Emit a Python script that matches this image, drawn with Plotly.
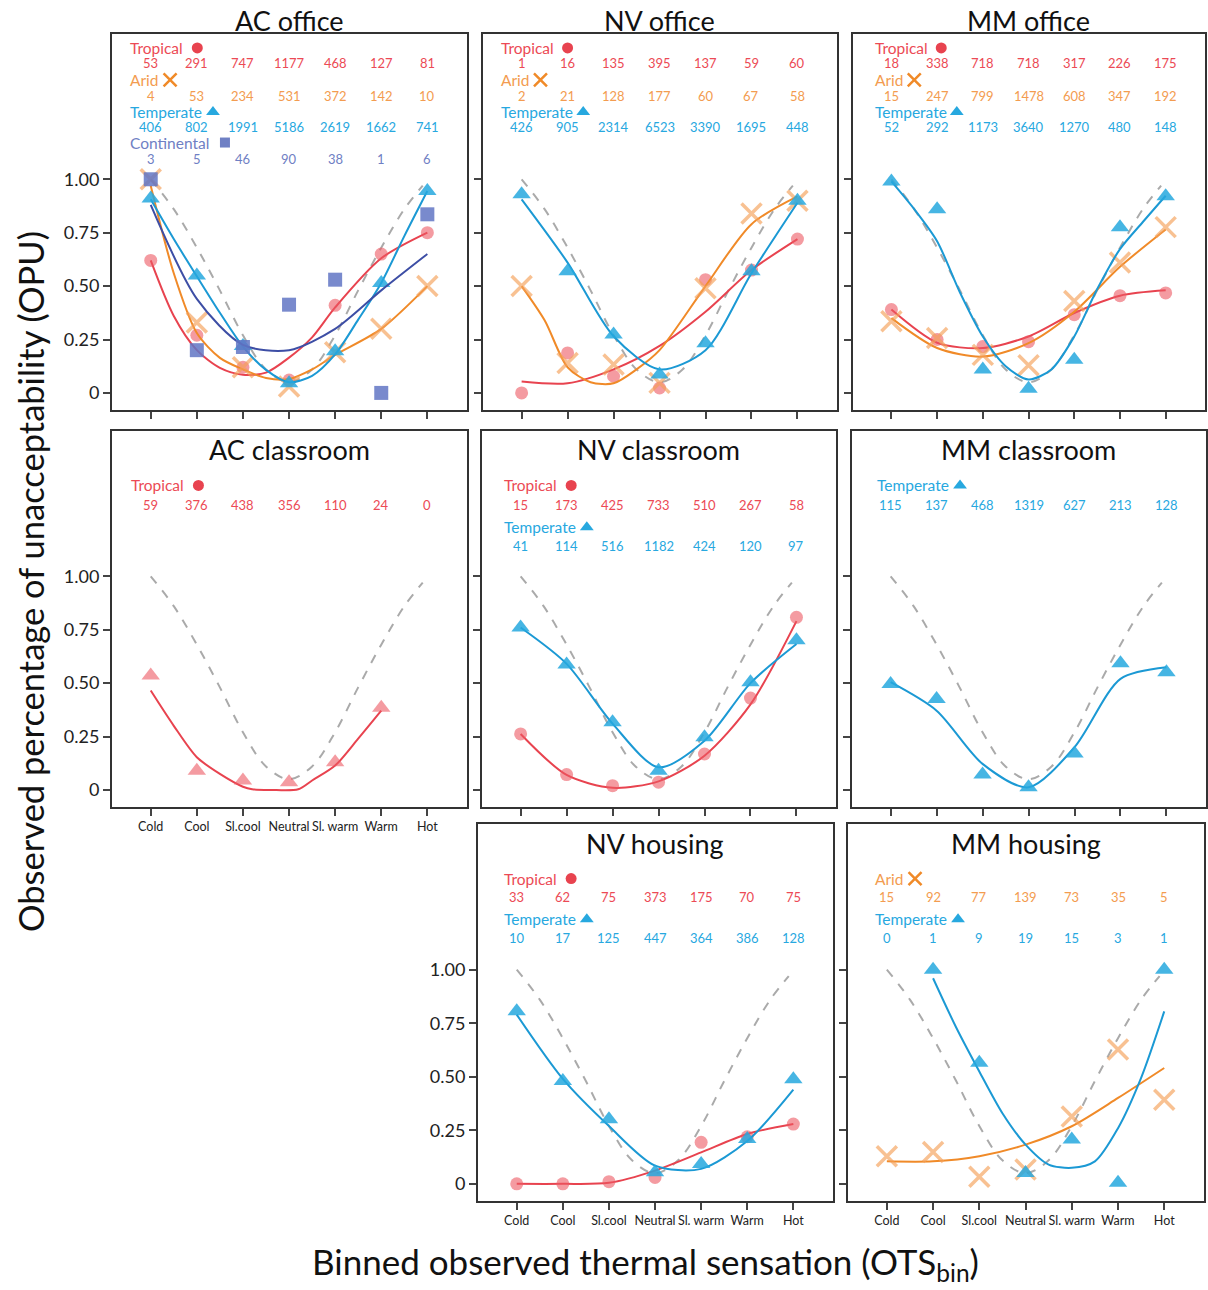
import plotly.graph_objects as go

W, H = 1208, 1290
FONT = "Lato"

categories = ["Cold", "Cool", "Sl.cool", "Neutral", "Sl. warm", "Warm", "Hot"]
levels = [1, 2, 3, 4, 5, 6, 7]
half = [1, 1.5, 2, 2.5, 3, 3.5, 4, 4.5, 5, 5.5, 6, 6.5, 7]

# grey dashed reference curve
ref_x = [1, 1.5, 2, 2.5, 3, 3.5, 4, 4.5, 5, 5.5, 6, 6.5, 6.9]
ref_y = [1.0, 0.86, 0.68, 0.48, 0.27, 0.11, 0.05, 0.11, 0.27, 0.48, 0.68, 0.86, 0.97]

# ---- AC office
ac_off_trop_n = [53, 291, 747, 1177, 468, 127, 81]
ac_off_trop_obs = [0.62, 0.27, 0.12, 0.06, 0.41, 0.65, 0.75]
ac_off_trop_fx = [1, 1.5, 2, 2.5, 3, 3.5, 4, 4.5, 5, 6, 7]
ac_off_trop_fit = [0.62, 0.36, 0.20, 0.117, 0.085, 0.095, 0.165, 0.26, 0.40, 0.63, 0.75]
ac_off_arid_n = [4, 53, 234, 531, 372, 142, 10]
ac_off_arid_obs = [1.0, 0.33, 0.12, 0.03, 0.19, 0.30, 0.50]
ac_off_arid_fx = [1, 1.5, 2, 2.5, 3, 3.5, 4, 4.5, 5, 6, 7]
ac_off_arid_fit = [0.97, 0.56, 0.28, 0.164, 0.11, 0.07, 0.065, 0.11, 0.178, 0.30, 0.50]
ac_off_temp_n = [406, 802, 1991, 5186, 2619, 1662, 741]
ac_off_temp_obs = [0.91, 0.55, 0.22, 0.045, 0.195, 0.515, 0.945]
ac_off_temp_fit = [0.906, 0.72, 0.546, 0.375, 0.217, 0.108, 0.05, 0.08, 0.18, 0.343, 0.515, 0.734, 0.945]
ac_off_cont_n = [3, 5, 46, 90, 38, 1, 6]
ac_off_cont_obs = [1.0, 0.20, 0.215, 0.413, 0.53, 0.0, 0.836]
ac_off_cont_fit = [0.88, 0.44, 0.225, 0.20, 0.30, 0.48, 0.65]

# ---- NV office
nv_off_trop_n = [1, 16, 135, 395, 137, 59, 60]
nv_off_trop_obs = [0.0, 0.187, 0.078, 0.023, 0.53, 0.575, 0.72]
nv_off_trop_fit = [0.053, 0.045, 0.11, 0.22, 0.38, 0.575, 0.72]
nv_off_arid_n = [2, 21, 128, 177, 60, 67, 58]
nv_off_arid_obs = [0.50, 0.14, 0.133, 0.047, 0.49, 0.84, 0.90]
nv_off_arid_fx = [1, 1.5, 2, 2.5, 3, 3.5, 4, 5, 6, 7]
nv_off_arid_fit = [0.50, 0.34, 0.12, 0.05, 0.045, 0.11, 0.20, 0.50, 0.79, 0.92]
nv_off_temp_n = [426, 905, 2314, 6523, 3390, 1695, 448]
nv_off_temp_obs = [0.93, 0.57, 0.273, 0.086, 0.233, 0.57, 0.90]
nv_off_temp_fit = [0.906, 0.61, 0.265, 0.11, 0.20, 0.56, 0.89]

# ---- MM office
mm_off_trop_n = [18, 338, 718, 718, 317, 226, 175]
mm_off_trop_obs = [0.39, 0.25, 0.217, 0.24, 0.366, 0.455, 0.468]
mm_off_trop_fit = [0.39, 0.235, 0.21, 0.264, 0.374, 0.455, 0.48]
mm_off_arid_n = [15, 247, 799, 1478, 608, 347, 192]
mm_off_arid_obs = [0.335, 0.257, 0.178, 0.13, 0.43, 0.61, 0.776]
mm_off_arid_fit = [0.35, 0.21, 0.17, 0.233, 0.38, 0.59, 0.765]
mm_off_temp_n = [52, 292, 1173, 3640, 1270, 480, 148]
mm_off_temp_obs = [0.99, 0.86, 0.11, 0.02, 0.155, 0.776, 0.92]
mm_off_temp_fit = [0.99, 0.86, 0.71, 0.47, 0.264, 0.125, 0.063, 0.11, 0.264, 0.485, 0.673, 0.80, 0.923]

# ---- AC classroom
ac_cls_trop_n = [59, 376, 438, 356, 110, 24, 0]
ac_cls_trop_obs = [0.535, 0.09, 0.044, 0.036, 0.13, 0.384, None]
ac_cls_trop_fx = [1, 1.5, 2, 2.5, 3, 3.2, 3.6, 4.2, 4.5, 5, 5.5, 6]
ac_cls_trop_fit = [0.465, 0.30, 0.153, 0.075, 0.015, 0.003, 0.0, 0.003, 0.044, 0.114, 0.24, 0.371]

# ---- NV classroom
nv_cls_trop_n = [15, 173, 425, 733, 510, 267, 58]
nv_cls_trop_obs = [0.262, 0.072, 0.02, 0.036, 0.168, 0.43, 0.808]
nv_cls_trop_fit = [0.262, 0.07, 0.01, 0.04, 0.16, 0.40, 0.79]
nv_cls_temp_n = [41, 114, 516, 1182, 424, 120, 97]
nv_cls_temp_obs = [0.76, 0.587, 0.317, 0.09, 0.246, 0.504, 0.70]
nv_cls_temp_fit = [0.76, 0.59, 0.31, 0.106, 0.23, 0.50, 0.683]

# ---- MM classroom
mm_cls_temp_n = [115, 137, 468, 1319, 627, 213, 128]
mm_cls_temp_obs = [0.496, 0.426, 0.072, 0.012, 0.171, 0.593, 0.551]
mm_cls_temp_fit = [0.504, 0.371, 0.122, 0.012, 0.20, 0.52, 0.574]

# ---- NV housing
nv_hou_trop_n = [33, 62, 75, 373, 175, 70, 75]
nv_hou_trop_obs = [0.0, 0.0, 0.01, 0.03, 0.194, 0.22, 0.279]
nv_hou_trop_fit = [0.0, 0.0, 0.005, 0.062, 0.147, 0.233, 0.279]
nv_hou_temp_n = [10, 17, 125, 447, 364, 386, 128]
nv_hou_temp_obs = [0.806, 0.48, 0.302, 0.054, 0.093, 0.209, 0.488]
nv_hou_temp_fit = [0.79, 0.49, 0.27, 0.085, 0.07, 0.20, 0.44]

# ---- MM housing
mm_hou_arid_n = [15, 92, 77, 139, 73, 35, 5]
mm_hou_arid_obs = [0.129, 0.149, 0.033, 0.067, 0.315, 0.627, 0.393]
mm_hou_arid_fit = [0.105, 0.105, 0.129, 0.183, 0.269, 0.401, 0.541]
mm_hou_temp_n = [0, 1, 9, 19, 15, 3, 1]
mm_hou_temp_obs = [None, 1.0, 0.565, 0.051, 0.207, 0.005, 1.0]
mm_hou_temp_fx = [2, 2.5, 3, 3.5, 4, 4.5, 5, 5.5, 6, 6.5, 7]
mm_hou_temp_fit = [0.96, 0.73, 0.525, 0.33, 0.183, 0.09, 0.075, 0.105, 0.26, 0.495, 0.805]

TEXT = {"Tropical": "#ec4a55", "Arid": "#f39c50", "Temperate": "#27a8df", "Continental": "#6f80c4"}
LINE = {"Tropical": "#e8434f", "Arid": "#f08a28", "Temperate": "#1b99d4", "Continental": "#3d4ea5"}
MARK = {"Tropical": "rgba(236,88,98,0.6)", "Arid": "rgba(245,160,88,0.65)",
        "Temperate": "rgba(38,168,222,0.85)", "Continental": "rgba(98,118,196,0.85)"}
SYM = {"Tropical": "circle", "Arid": "x-thin", "Temperate": "triangle-up", "Continental": "square"}
# key symbol next to each climate name: offset from label start (axis units), size, colour
KEY = {"Tropical": (1.50, 11, "#e8434f"), "Arid": (0.91, 13, "#f08a28"),
       "Temperate": (1.84, 12, "#27a8df"), "Continental": (2.10, 10, "#6f80c4")}

ROWS = {
    1: dict(ypx=(34, 410), title_py=20, text_y=[1.615, 1.545, 1.465, 1.39, 1.315, 1.245, 1.172, 1.095]),
    2: dict(ypx=(431, 807), title_py=450, text_y=[1.425, 1.335, 1.23, 1.14]),
    3: dict(ypx=(824, 1201), title_py=843, text_y=[1.425, 1.34, 1.235, 1.148]),
}

panels = [
    dict(title="AC office", row=1, xpx=(112, 467), lx=0.51, ylab=True, xlab=False, series=[
        ("Tropical", ac_off_trop_n, ac_off_trop_obs, ac_off_trop_fx, ac_off_trop_fit),
        ("Arid", ac_off_arid_n, ac_off_arid_obs, ac_off_arid_fx, ac_off_arid_fit),
        ("Temperate", ac_off_temp_n, ac_off_temp_obs, half, ac_off_temp_fit),
        ("Continental", ac_off_cont_n, ac_off_cont_obs, levels, ac_off_cont_fit)]),
    dict(title="NV office", row=1, xpx=(483, 837), lx=0.50, ylab=False, xlab=False, series=[
        ("Tropical", nv_off_trop_n, nv_off_trop_obs, levels, nv_off_trop_fit),
        ("Arid", nv_off_arid_n, nv_off_arid_obs, nv_off_arid_fx, nv_off_arid_fit),
        ("Temperate", nv_off_temp_n, nv_off_temp_obs, levels, nv_off_temp_fit)]),
    dict(title="MM office", row=1, xpx=(853, 1205), lx=0.59, ylab=False, xlab=False, series=[
        ("Tropical", mm_off_trop_n, mm_off_trop_obs, levels, mm_off_trop_fit),
        ("Arid", mm_off_arid_n, mm_off_arid_obs, levels, mm_off_arid_fit),
        ("Temperate", mm_off_temp_n, mm_off_temp_obs, half, mm_off_temp_fit)]),
    dict(title="AC classroom", row=2, xpx=(112, 467), lx=0.535, ylab=True, xlab=True, sym="triangle-up", series=[
        ("Tropical", ac_cls_trop_n, ac_cls_trop_obs, ac_cls_trop_fx, ac_cls_trop_fit)]),
    dict(title="NV classroom", row=2, xpx=(482, 836), lx=0.60, ylab=False, xlab=False, series=[
        ("Tropical", nv_cls_trop_n, nv_cls_trop_obs, levels, nv_cls_trop_fit),
        ("Temperate", nv_cls_temp_n, nv_cls_temp_obs, levels, nv_cls_temp_fit)]),
    dict(title="MM classroom", row=2, xpx=(852, 1206), lx=0.67, ylab=False, xlab=False, series=[
        ("Temperate", mm_cls_temp_n, mm_cls_temp_obs, levels, mm_cls_temp_fit)]),
    dict(title="NV housing", row=3, xpx=(478, 833), lx=0.68, ylab=True, xlab=True, series=[
        ("Tropical", nv_hou_trop_n, nv_hou_trop_obs, levels, nv_hou_trop_fit),
        ("Temperate", nv_hou_temp_n, nv_hou_temp_obs, levels, nv_hou_temp_fit)]),
    dict(title="MM housing", row=3, xpx=(848, 1204), lx=0.70, ylab=False, xlab=True, series=[
        ("Arid", mm_hou_arid_n, mm_hou_arid_obs, levels, mm_hou_arid_fit),
        ("Temperate", mm_hou_temp_n, mm_hou_temp_obs, mm_hou_temp_fx, mm_hou_temp_fit)]),
]

fig = go.Figure()
annotations = []
layout = {}


def marker_style(sym, color, big=True):
    if sym == "x-thin":
        return dict(symbol=sym, size=20 if big else 13, line=dict(width=3.5 if big else 2.5, color=color))
    size = {"circle": 13, "square": 14, "triangle-up": 16}[sym]
    return dict(symbol=sym, size=size, color=color)


for k, p in enumerate(panels, start=1):
    sx = "" if k == 1 else str(k)
    xa, ya = "x" + sx, "y" + sx
    row = ROWS[p["row"]]
    top, bot = row["ypx"]
    layout["xaxis" + sx] = dict(
        domain=[p["xpx"][0] / W, p["xpx"][1] / W], anchor=ya, range=[0.16, 7.86],
        tickmode="array", tickvals=levels, ticktext=categories,
        showticklabels=p["xlab"], tickangle=0,
        ticks="outside", ticklen=7, tickwidth=1.5, tickcolor="#444",
        showline=True, mirror=True, linecolor="#333", linewidth=2,
        showgrid=False, zeroline=False, fixedrange=True,
        tickfont=dict(family=FONT, size=12.5, color="#222"))
    layout["yaxis" + sx] = dict(
        domain=[1 - bot / H, 1 - top / H], anchor=xa, range=[-0.08, 1.68],
        tickmode="array", tickvals=[0, 0.25, 0.5, 0.75, 1.0],
        ticktext=["0", "0.25", "0.50", "0.75", "1.00"], showticklabels=p["ylab"],
        ticks="outside", ticklen=7, tickwidth=1.5, tickcolor="#444",
        showline=True, mirror=True, linecolor="#333", linewidth=2,
        showgrid=False, zeroline=False, fixedrange=True,
        tickfont=dict(family=FONT, size=18, color="#222"))

    fig.add_trace(go.Scatter(x=ref_x, y=ref_y, xaxis=xa, yaxis=ya, mode="lines",
                             line=dict(color="#aaaaaa", width=2, dash="dash", shape="spline"),
                             showlegend=False, hoverinfo="skip"))

    for i, (name, n, obs, fx, fit) in enumerate(p["series"]):
        fig.add_trace(go.Scatter(x=fx, y=fit, xaxis=xa, yaxis=ya, mode="lines",
                                 line=dict(color=LINE[name], width=2, shape="spline", smoothing=0.8),
                                 showlegend=False))
        sym = p.get("sym", SYM[name])
        fig.add_trace(go.Scatter(x=levels, y=obs, xaxis=xa, yaxis=ya, mode="markers",
                                 marker=marker_style(sym, MARK[name]), name=name, showlegend=False))

        ly, ny = row["text_y"][2 * i], row["text_y"][2 * i + 1]
        annotations.append(dict(x=p["lx"], y=ly, xref=xa, yref=ya, xanchor="left", yanchor="middle",
                                text=name, showarrow=False,
                                font=dict(family=FONT, size=15.5, color=TEXT[name])))
        # key symbol after the name
        off, ks, kc = KEY[name]
        kmk = marker_style(SYM[name], kc, big=False)
        if SYM[name] != "x-thin":
            kmk["size"] = ks
        fig.add_trace(go.Scatter(x=[p["lx"] + off], y=[ly], xaxis=xa, yaxis=ya, mode="markers",
                                 marker=kmk, showlegend=False, hoverinfo="skip"))
        for lv, cnt in zip(levels, n):
            annotations.append(dict(x=lv, y=ny, xref=xa, yref=ya, xanchor="center", yanchor="middle",
                                    text=str(cnt), showarrow=False,
                                    font=dict(family=FONT, size=13, color=TEXT[name])))

    annotations.append(dict(x=4, y=1 - row["title_py"] / H, xref=xa, yref="paper",
                            xanchor="center", yanchor="middle", text=p["title"], showarrow=False,
                            font=dict(family=FONT, size=27, color="#111")))

annotations.append(dict(x=30 / W, y=1 - 582 / H, xref="paper", yref="paper", textangle=-90,
                        text="Observed percentage of unacceptability (OPU)", showarrow=False,
                        xanchor="center", yanchor="middle",
                        font=dict(family=FONT, size=34.5, color="#111")))
annotations.append(dict(x=645 / W, y=1 - 1263 / H, xref="paper", yref="paper",
                        text="Binned observed thermal sensation (OTS<sub>bin</sub>)", showarrow=False,
                        xanchor="center", yanchor="middle",
                        font=dict(family=FONT, size=35, color="#111")))

fig.update_layout(width=W, height=H, margin=dict(l=0, r=0, t=0, b=0),
                  paper_bgcolor="white", plot_bgcolor="white",
                  annotations=annotations, **layout)

fig.write_html("out.html", config={"displayModeBar": False},
               post_script="document.body.style.margin='0px';")
